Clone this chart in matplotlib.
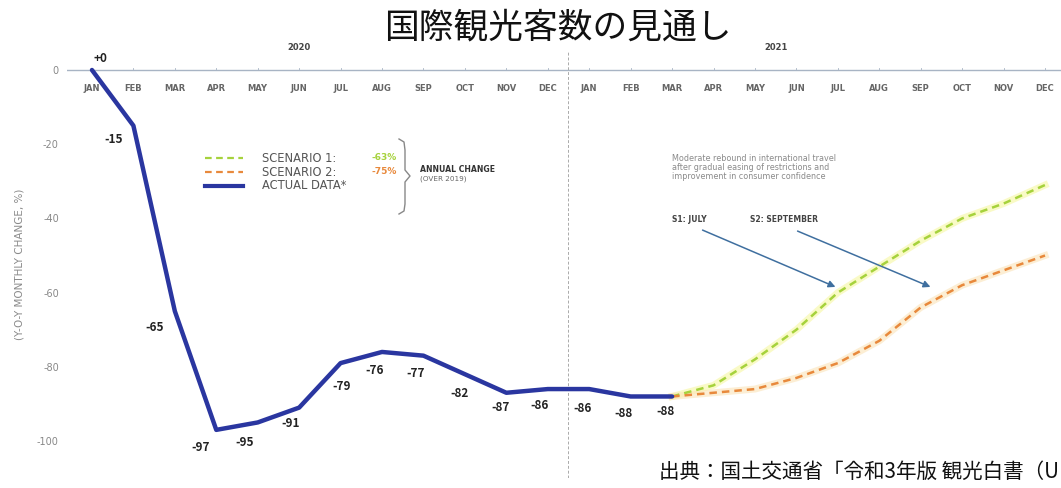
import matplotlib
matplotlib.use("Agg")
import matplotlib.pyplot as plt

plt.rcParams['font.family'] = ['Noto Sans CJK JP', 'DejaVu Sans']

# months on the x axis (2020 + 2021)
months = ['JAN', 'FEB', 'MAR', 'APR', 'MAY', 'JUN', 'JUL', 'AUG', 'SEP', 'OCT', 'NOV', 'DEC',
          'JAN', 'FEB', 'MAR', 'APR', 'MAY', 'JUN', 'JUL', 'AUG', 'SEP', 'OCT', 'NOV', 'DEC']
years = ['2020', '2021']

# actual data, Jan 2020 - Mar 2021 (y-o-y monthly change, %)
actual = [0, -15, -65, -97, -95, -91, -79, -76, -77, -82, -87, -86, -86, -88, -88]
actual_labels = ['+0', '-15', '-65', '-97', '-95', '-91', '-79', '-76', '-77', '-82',
                 '-87', '-86', '-86', '-88', '-88']

# scenarios, Mar 2021 - Dec 2021
scen1 = [-88, -85, -78, -70, -60, -53, -46, -40, -36, -31]
scen2 = [-88, -87, -86, -83, -79, -73, -64, -58, -54, -50]
scen_labels = ['SCENARIO 1:', 'SCENARIO 2:', 'ACTUAL DATA*']
scen_change = ['-63%', '-75%']

yticks = [0, -20, -40, -60, -80, -100]

navy = '#2a36a0'
green = '#a6d23c'
orange = '#e8893c'
LAT = 'DejaVu Sans'

fig = plt.figure(figsize=(10.61, 4.88), dpi=100)
W, H = 1061, 488
x0, x1 = -0.6, 23.4
y0, y1 = -110, 5
left_px, right_px = 67.1, 1061.6
top_px, bot_px = 70 - 5 * 3.71, 441 + 10 * 3.71
ax = fig.add_axes([left_px / W, (H - bot_px) / H, (right_px - left_px) / W, (bot_px - top_px) / H])
ax.set_xlim(x0, x1)
ax.set_ylim(y0, y1)
for s in ax.spines.values():
    s.set_visible(False)
ax.set_xticks([])
ax.set_yticks(yticks)
ax.set_yticklabels([str(v) for v in yticks], color='#888888', fontsize=7, family=LAT)
ax.tick_params(axis='y', length=0, pad=6)
ax.set_ylabel('(Y-O-Y MONTHLY CHANGE, %)', color='#8a8a8a', fontsize=7.5, labelpad=9,
              family=LAT)

# zero axis line
ax.axhline(0, color='#a8b4c4', lw=1.0, zorder=1)
for i in range(len(months)):
    ax.plot([i, i], [0, 0.6], color='#a8b4c4', lw=0.6)
    ax.text(i, -4.9, months[i], ha='center', va='center', fontsize=6,
            color='#666666', fontweight='bold', family=LAT)
ax.text(5, 6.0, years[0], ha='center', va='center', fontsize=6, color='#444444',
        fontweight='bold', clip_on=False, family=LAT)
ax.text(16.5, 6.0, years[1], ha='center', va='center', fontsize=6, color='#444444',
        fontweight='bold', clip_on=False, family=LAT)
ax.axvline(11.5, color='#aaaaaa', lw=0.7, ls=(0, (3, 2)), zorder=1)

# scenario lines
xs = list(range(len(actual) - 1, len(actual) - 1 + len(scen1)))
ax.plot(xs, scen1, color='#f6f7a0', lw=5, alpha=0.6, zorder=2)
ax.plot(xs, scen1, color=green, lw=1.8, ls=(0, (3, 2)), zorder=3)
ax.plot(xs, scen2, color='#fbe3b8', lw=5, alpha=0.6, zorder=2)
ax.plot(xs, scen2, color=orange, lw=1.8, ls=(0, (3, 2)), zorder=3)

# actual line
xa = list(range(len(actual)))
ax.plot(xa, actual, color=navy, lw=3.2, solid_capstyle='round', solid_joinstyle='round',
        zorder=4)

offsets = [(8, 12), (-20, -14), (-20, -16), (-16, -18), (-13, -20), (-9, -16), (1, -23),
           (-7, -19), (-8, -18), (-5, -19), (-6, -15), (-8, -16), (-7, -19), (-7, -17), (-7, -15)]
for i, (v, lab) in enumerate(zip(actual, actual_labels)):
    ax.annotate(lab, (i, v), xytext=offsets[i], textcoords='offset pixels',
                ha='center', va='center', fontsize=8.5, fontweight='bold', color='#222222',
                annotation_clip=False)


def px(x, y):
    return ax.transData.inverted().transform(fig.transFigure.transform((x / W, 1 - y / H)))


# legend block
lx = [px(205, 0)[0], px(243, 0)[0]]
ax.plot(lx, [px(0, 158)[1]] * 2, color=green, lw=1.6, ls=(0, (3, 2)))
ax.plot(lx, [px(0, 172)[1]] * 2, color=orange, lw=1.6, ls=(0, (3, 2)))
ax.plot(lx, [px(0, 186)[1]] * 2, color=navy, lw=3)
for lab, yy in zip(scen_labels, [158, 172, 186]):
    fig.text(262 / W, 1 - yy / H, lab, fontsize=8.3, color='#555555', va='center', ha='left',
             family=LAT)
fig.text(372 / W, 1 - 158 / H, scen_change[0], fontsize=6.5, color=green, va='center',
         fontweight='bold', family=LAT)
fig.text(372 / W, 1 - 172 / H, scen_change[1], fontsize=6.5, color=orange, va='center',
         fontweight='bold', family=LAT)
bracket = [(399, 139), (404, 142), (405, 150), (405, 170), (410, 176), (405, 182), (405, 204),
           (404, 211), (399, 214)]
bp = [px(a, b) for a, b in bracket]
ax.plot([p[0] for p in bp], [p[1] for p in bp], color='#888888', lw=1.0, clip_on=False)
fig.text(420 / W, 1 - 170 / H, 'ANNUAL CHANGE', fontsize=5.6, color='#333333', va='center',
         fontweight='bold', family=LAT)
fig.text(420 / W, 1 - 179 / H, '(OVER 2019)', fontsize=5.2, color='#666666', va='center',
         family=LAT)

# annotation text and arrows
fig.text(672 / W, 1 - 168 / H,
         'Moderate rebound in international travel\nafter gradual easing of restrictions and\n'
         'improvement in consumer confidence',
         fontsize=5.8, color='#8a8a8a', va='center', ha='left', linespacing=1.0, family=LAT)
fig.text(672 / W, 1 - 219 / H, 'S1: JULY', fontsize=5.5, color='#444444', va='center',
         fontweight='bold', family=LAT)
fig.text(750 / W, 1 - 219 / H, 'S2: SEPTEMBER', fontsize=5.5, color='#444444', va='center',
         fontweight='bold', family=LAT)
for (ax0, ay0, ax1, ay1) in [(700, 229, 838, 288), (795, 230, 933, 288)]:
    ax.annotate('', xy=px(ax1, ay1), xytext=px(ax0, ay0),
                arrowprops=dict(arrowstyle='-|>', color='#3f6f9f', lw=1.1,
                                mutation_scale=10), annotation_clip=False)

# title and source (source is shown cut at the right edge in the original)
fig.text(558 / W, 1 - 28 / H, '国際観光客数の見通し', fontsize=25, color='#111111',
         ha='center', va='center')
fig.text(1059 / W, 1 - 472 / H, '出典：国土交通省「令和3年版 観光白書（U', fontsize=14.8,
         color='#111111', ha='right', va='center')

fig.savefig('out.png', dpi=100, facecolor='white')
